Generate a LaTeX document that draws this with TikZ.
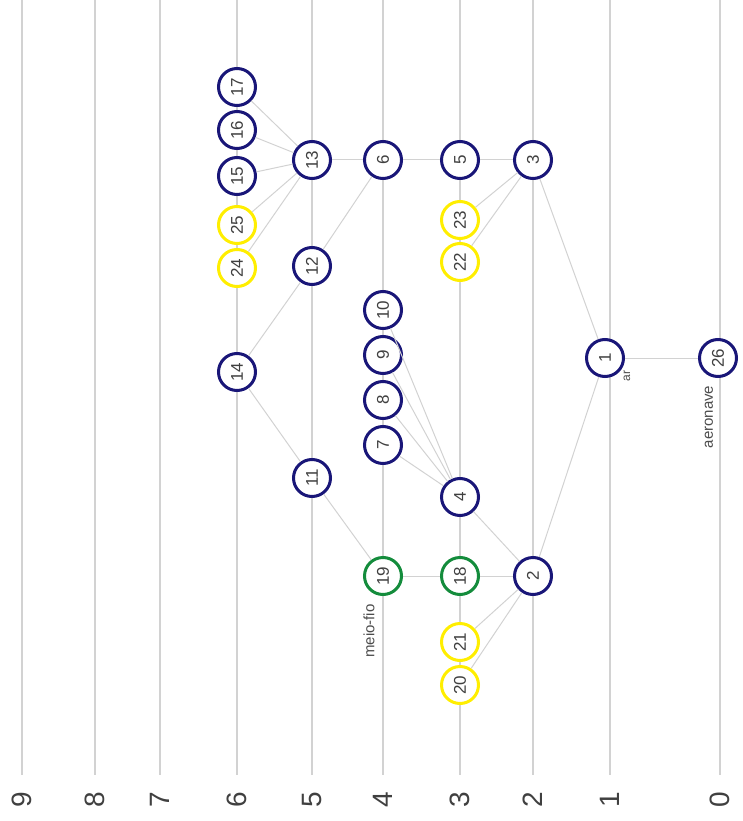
\documentclass[tikz,border=0pt]{standalone}
\usepackage{fontspec}
\setmainfont{Liberation Sans}
\definecolor{navyc}{RGB}{25,22,120}
\definecolor{yelc}{RGB}{255,238,0}
\definecolor{grnc}{RGB}{20,140,60}
\definecolor{linec}{RGB}{210,210,210}
\begin{document}
\begin{tikzpicture}[x=1pt,y=-1pt,
  nd/.style={circle,draw=navyc,line width=3pt,fill=white,minimum size=37pt,inner sep=0pt,rotate=90,font=\fontsize{17}{17}\selectfont,text=black!75},
  yn/.style={nd,draw=yelc},
  gn/.style={nd,draw=grnc},
  edge/.style={draw=linec,line width=1pt},
  axisline/.style={draw=linec,line width=1.2pt},
  axlab/.style={rotate=90,font=\fontsize{28}{28}\selectfont,text=black!75,inner sep=0pt},
  small/.style={rotate=90,font=\fontsize{15}{15}\selectfont,text=black!70,inner sep=0pt}]
\useasboundingbox (0,0) rectangle (742,821);
% axis lines and labels
\foreach \lab/\xx in {9/22,8/95,7/160,6/237,5/312,4/383,3/460,2/533,1/610,0/720}{
  \coordinate (T\lab) at (\xx,0);
  \coordinate (B\lab) at (\xx,775);
  \draw[axisline] (T\lab) -- (B\lab);
  \node[axlab] (L\lab) at (\xx,800) {\lab};
}
% nodes
\node[nd] (n17) at (237,87) {17};
\node[nd] (n16) at (237,130) {16};
\node[nd] (n15) at (237,176) {15};
\node[yn] (n25) at (237,225) {25};
\node[yn] (n24) at (237,268) {24};
\node[nd] (n13) at (312,160) {13};
\node[nd] (n6) at (383,160) {6};
\node[nd] (n5) at (460,160) {5};
\node[nd] (n3) at (533,160) {3};
\node[yn] (n23) at (460,220) {23};
\node[yn] (n22) at (460,262) {22};
\node[nd] (n12) at (312,266) {12};
\node[nd] (n14) at (237,372) {14};
\node[nd] (n10) at (383,310) {10};
\node[nd] (n9) at (383,355) {9};
\node[nd] (n8) at (383,400) {8};
\node[nd] (n7) at (383,445) {7};
\node[nd] (n11) at (312,478) {11};
\node[nd] (n4) at (460,497) {4};
\node[nd] (n1) at (605,358) {1};
\node[nd] (n26) at (718,358) {26};
\node[gn] (n19) at (383,576) {19};
\node[gn] (n18) at (460,576) {18};
\node[nd] (n2) at (533,576) {2};
\node[yn] (n21) at (460,642) {21};
\node[yn] (n20) at (460,685) {20};
% labels
\node[small,font=\fontsize{12}{12}\selectfont] (lar) at (627,376) {ar};
\node[small] (laer) at (709,417) {aeronave};
\node[small] (lmf) at (369,631) {meio-fio};
% edges
\foreach \a/\b in {n17/n13,n16/n13,n15/n13,n25/n13,n24/n13,n13/n6,n6/n5,n5/n3,
  n23/n3,n22/n3,n12/n6,n14/n12,n14/n11,n11/n19,n19/n18,n18/n2,n21/n2,n20/n2,
  n4/n2,n7/n4,n8/n4,n9/n4,n10/n4,n2/n1,n3/n1,n1/n26}{
  \draw[edge] (\a) -- (\b);
}
\end{tikzpicture}
\end{document}
